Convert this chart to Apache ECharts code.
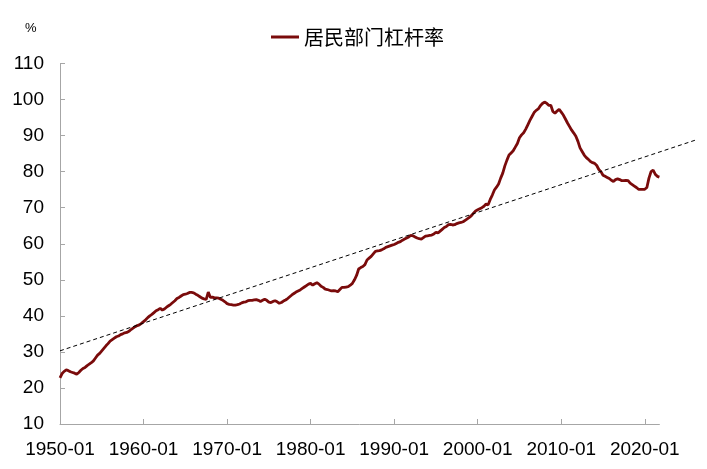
<!DOCTYPE html>
<html>
<head>
<meta charset="utf-8">
<script src="https://cdn.jsdelivr.net/npm/echarts@6/dist/echarts.min.js"></script>
<style>html,body{margin:0;padding:0;background:#fff}#c{width:707px;height:469px}</style>
</head>
<body>
<div id="c"></div>
<script>
// ---- data ----
const startYear = 1950;
const endYear = 2021;
const seriesName = '居民部门杠杆率';
const leverage = [
22.8,24.0,24.6,25.0, 24.8,24.5,24.3,24.1, 23.8,24.3,24.9,25.4, 25.7,26.2,26.6,27.0,
27.5,28.3,29.1,29.6, 30.3,31.0,31.7,32.3, 33.0,33.4,33.8,34.2, 34.4,34.8,35.0,35.3,
35.4,35.7,36.2,36.6, 37.0,37.3,37.5,37.9, 38.4,38.9,39.5,40.0, 40.4,40.9,41.4,41.7,
42.1,41.6,41.9,42.4, 42.8,43.2,43.7,44.2, 44.8,45.1,45.5,45.9, 46.0,46.2,46.5,46.5,
46.4,46.0,45.7,45.3, 44.9,44.7,44.6,46.6, 45.1,45.2,45.0,45.0, 44.9,44.6,44.3,43.9,
43.4,43.2,43.1,43.0, 43.0,43.1,43.3,43.6, 43.8,43.9,44.2,44.3, 44.3,44.4,44.5,44.3,
44.0,44.3,44.6,44.3, 43.8,43.7,44.0,44.2, 43.9,43.5,43.7,44.1, 44.4,44.8,45.3,45.8,
46.2,46.6,46.9,47.2, 47.6,48.0,48.4,48.8, 49.0,48.5,48.9,49.2, 48.8,48.2,47.9,47.4,
47.3,47.1,46.9,47.0, 46.9,46.7,47.3,47.9, 47.9,48.0,48.1,48.5, 49.0,50.0,51.2,53.0,
53.4,53.7,54.2,55.5, 56.0,56.5,57.2,57.9, 58.0,58.1,58.3,58.6, 59.0,59.2,59.4,59.6,
59.8,60.1,60.4,60.6, 61.0,61.3,61.6,61.9, 62.3,62.2,61.9,61.6, 61.4,61.3,61.7,62.1,
62.2,62.3,62.4,62.7, 63.2,63.0,63.5,64.0, 64.5,64.8,65.3,65.4, 65.2,65.3,65.6,65.8,
65.9,66.1,66.5,66.9, 67.3,67.8,68.5,69.1, 69.4,69.7,70.0,70.4, 71.0,70.8,72.3,73.5,
74.9,75.7,76.6,78.2, 79.6,81.6,83.2,84.6, 85.2,85.8,86.8,87.8, 89.4,90.2,90.8,91.8,
93.0,94.2,95.3,96.4, 97.0,97.4,98.3,98.9, 99.3,99.0,98.4,98.4, 96.7,96.2,96.8,97.3,
96.5,95.7,94.6,93.5, 92.5,91.5,90.7,89.8, 88.4,86.6,85.6,84.6, 83.9,83.4,82.8,82.5,
82.3,81.7,80.6,80.0, 79.0,78.7,78.4,78.1, 77.6,77.3,77.8,78.0, 77.8,77.5,77.5,77.6,
77.5,76.8,76.4,76.0, 75.6,75.1,75.1,75.1, 75.1,75.6,78.2,80.0, 80.4,79.3,78.7,78.5
];
const trendDates = ['1950-01', '2026-01'];
const trendValues = [30.3, 88.7];
const yTicks = { min: 10, max: 110, step: 10 };
const labelEvery = 40; // quarters (10 years)

// ---- build categories ----
const months = ['01','04','07','10'];
const categories = [];
for (let y = startYear; y <= endYear; y++) months.forEach(m => categories.push(y + '-' + m));
function quarterIndex(s){ const [y,m] = s.split('-').map(Number); return (y - startYear) * 4 + (m - 1) / 3; }
const trendData = trendDates.map((d,i) => [quarterIndex(d), trendValues[i]]);

const axisColor = '#a6a6a6';
const gridLeft = 60, gridRight = 47.6;
const pxPerCat = (707 - gridLeft - gridRight) / (categories.length - 1);
const chart = echarts.init(document.getElementById('c'), null, {renderer:'canvas'});
chart.setOption({
  animation: false,
  backgroundColor: '#fff',
  textStyle: { fontFamily: 'Liberation Sans, Arial, sans-serif' },
  title: { text: '%', left: 20, top: 17, textStyle: { fontSize: 13, fontWeight: 'normal', color: '#000', fontFamily: 'Liberation Sans' } },
  legend: {
    data: [seriesName], left: 266, top: 22, icon: 'rect', itemWidth: 28, itemHeight: 3, itemGap: 6,
    textStyle: { fontSize: 20, color: '#000', fontFamily: 'Noto Sans CJK SC' }
  },
  grid: [
    { left: gridLeft, right: gridRight, top: 63.5, bottom: 45 },
    { left: gridLeft, right: gridRight - (trendData[1][0] - (categories.length - 1)) * pxPerCat, top: 63.5, bottom: 45 }
  ],
  xAxis: [
    {
      type: 'category', data: categories, boundaryGap: false, gridIndex: 0,
      axisLine: { lineStyle: { color: axisColor, width: 1 } },
      axisTick: { inside: true, length: 5, interval: (i) => i % labelEvery === 0, lineStyle: { color: axisColor } },
      axisLabel: { interval: (i) => i % labelEvery === 0, margin: 16, fontSize: 19, color: '#000', fontFamily: 'Liberation Sans' },
      splitLine: { show: false }
    },
    { type: 'value', gridIndex: 1, min: 0, max: trendData[1][0], show: false }
  ],
  yAxis: [
    {
      type: 'value', min: yTicks.min, max: yTicks.max, interval: yTicks.step, gridIndex: 0,
      axisLine: { show: true, lineStyle: { color: axisColor, width: 1 } },
      axisTick: { show: true, inside: true, length: 5, lineStyle: { color: axisColor } },
      axisLabel: { margin: 16, fontSize: 19, color: '#000', fontFamily: 'Liberation Sans' },
      splitLine: { show: false }
    },
    { type: 'value', gridIndex: 1, min: yTicks.min, max: yTicks.max, show: false }
  ],
  series: [
    {
      name: seriesName, type: 'line', data: leverage, xAxisIndex: 0, yAxisIndex: 0,
      showSymbol: false, symbol: 'none', smooth: false,
      lineStyle: { color: '#7a0b0b', width: 2.8 }, itemStyle: { color: '#7a0b0b' }, z: 2
    },
    {
      name: 'trend', type: 'line', data: trendData, xAxisIndex: 1, yAxisIndex: 1,
      showSymbol: false, symbol: 'none', silent: true,
      lineStyle: { color: '#000', width: 1, type: [4, 3] }, z: 3
    }
  ]
});
</script>
</body>
</html>
